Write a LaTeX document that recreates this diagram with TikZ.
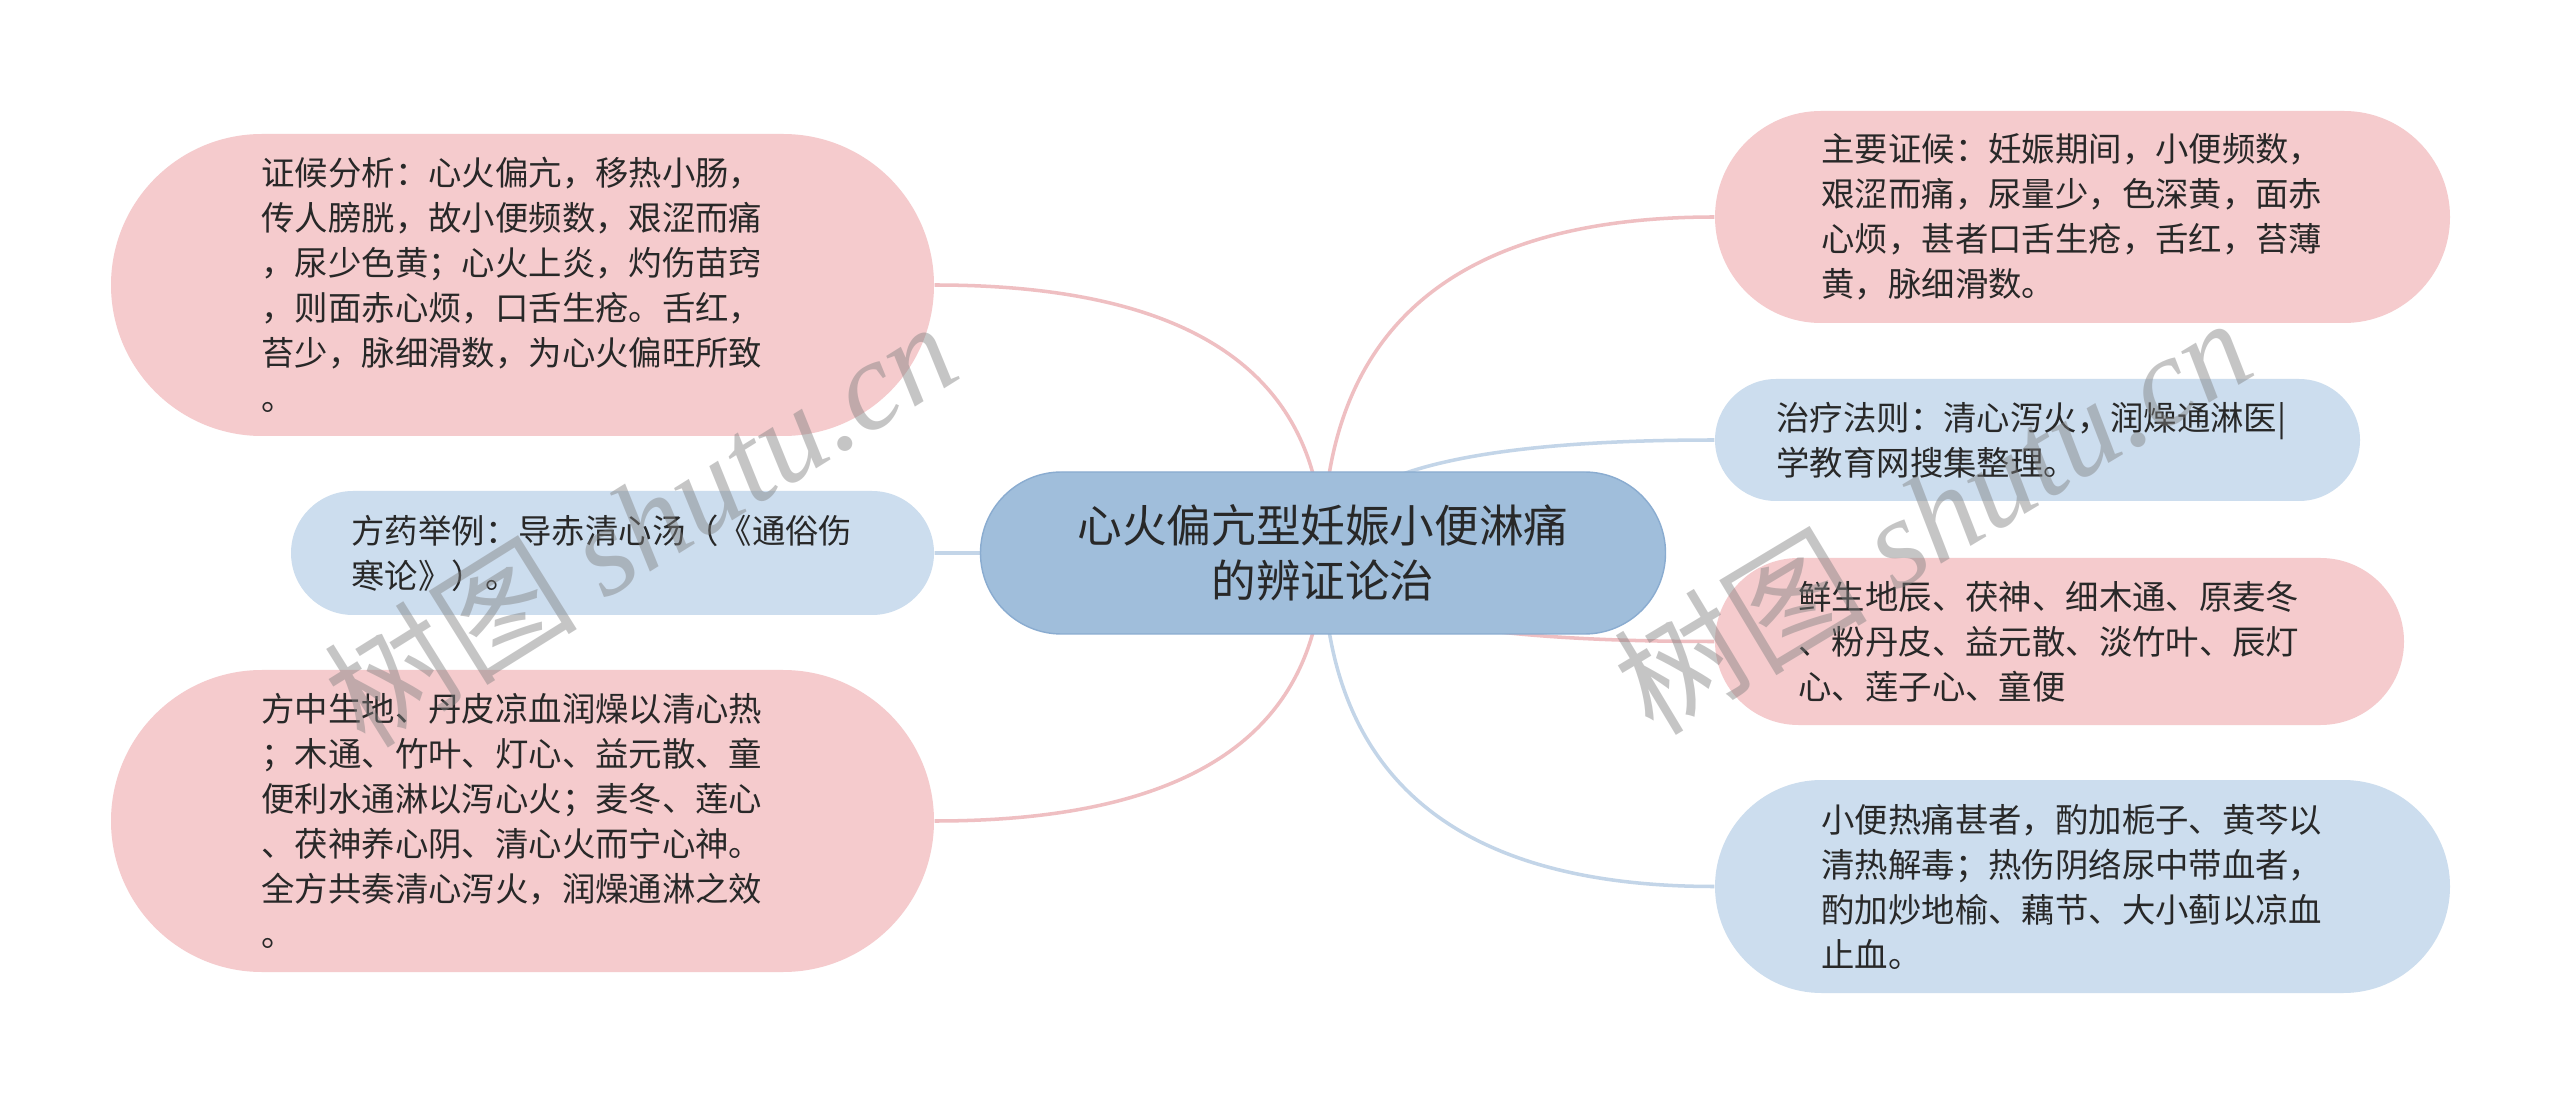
\documentclass[tikz,border=0pt]{standalone}
\usepackage{fontspec}
\setmainfont{Noto Sans CJK SC}
\newfontfamily\wmfont{Liberation Serif}
\usetikzlibrary{shapes.misc,calc,backgrounds}
\definecolor{leafpink}{RGB}{245,203,205}
\definecolor{leafblue}{RGB}{204,221,238}
\definecolor{rootblue}{RGB}{160,190,219}
\definecolor{rootedge}{RGB}{138,172,208}
\definecolor{linkpink}{RGB}{239,191,194}
\definecolor{linkblue}{RGB}{195,213,232}
\definecolor{inkgray}{RGB}{40,40,40}

\begin{document}
\begin{tikzpicture}[
  leaf/.style={rounded rectangle, inner sep=0pt, text width=5.22cm, align=left,
    text=inkgray, font=\fontsize{9.5}{12.8}\selectfont},
  pinkleaf/.style={leaf, fill=leafpink},
  blueleaf/.style={leaf, fill=leafblue},
  rootnode/.style={rounded rectangle, inner sep=0pt, fill=rootblue, draw=rootedge,
    line width=0.4pt, align=center, text=inkgray, font=\fontsize{12.7}{15.8}\selectfont},
  pinkln/.style={draw=linkpink, line width=1pt},
  blueln/.style={draw=linkblue, line width=1pt},
  wmark/.style={text=gray, text opacity=0.45, font=\fontsize{36}{40}\selectfont}]
  \useasboundingbox (0,0) rectangle (25.6,11.05);
  % centre
  \node[rootnode, minimum width=6.85cm, minimum height=1.62cm] (root) at (13.23,5.52)
    {心火偏亢型妊娠小便淋痛\\的辨证论治};
  % left side
  \node[pinkleaf, minimum width=8.23cm, minimum height=3.02cm] (lt) at (5.225,8.20)
    {证候分析：心火偏亢，移热小肠，\\传人膀胱，故小便频数，艰涩而痛\\，尿少色黄；心火上炎，灼伤苗窍\\，则面赤心烦，口舌生疮。舌红，\\苔少，脉细滑数，为心火偏旺所致\\。};
  \node[blueleaf, minimum width=6.43cm, minimum height=1.24cm] (lm) at (6.125,5.52)
    {方药举例：导赤清心汤（《通俗伤\\寒论》）。};
  \node[pinkleaf, minimum width=8.23cm, minimum height=3.02cm] (lb) at (5.225,2.84)
    {方中生地、丹皮凉血润燥以清心热\\；木通、竹叶、灯心、益元散、童\\便利水通淋以泻心火；麦冬、莲心\\、茯神养心阴、清心火而宁心神。\\全方共奏清心泻火，润燥通淋之效\\。};
  % right side
  \node[pinkleaf, minimum width=7.35cm, minimum height=2.12cm] (rt) at (20.825,8.88)
    {主要证候：妊娠期间，小便频数，\\艰涩而痛，尿量少，色深黄，面赤\\心烦，甚者口舌生疮，舌红，苔薄\\黄，脉细滑数。};
  \node[blueleaf, minimum width=6.45cm, minimum height=1.22cm] (rma) at (20.375,6.65)
    {治疗法则：清心泻火，润燥通淋医|\\学教育网搜集整理。};
  \node[pinkleaf, minimum width=6.89cm, minimum height=1.67cm] (rmb) at (20.595,4.635)
    {鲜生地辰、茯神、细木通、原麦冬\\、粉丹皮、益元散、淡竹叶、辰灯\\心、莲子心、童便};
  \node[blueleaf, minimum width=7.35cm, minimum height=2.13cm] (rb) at (20.825,2.185)
    {小便热痛甚者，酌加栀子、黄芩以\\清热解毒；热伤阴络尿中带血者，\\酌加炒地榆、藕节、大小蓟以凉血\\止血。};
  % branches
  \begin{scope}[on background layer]
    \fill[white] (0,0) rectangle (25.6,11.05);
    \foreach \leaf/\side/\kind in {lt/east/pinkln, lm/east/blueln, lb/east/pinkln,
        rt/west/pinkln, rma/west/blueln, rmb/west/pinkln, rb/west/blueln}
      \draw[\kind] (root.center)
        .. controls ($(root.center)!0.667!(root.center |- \leaf.\side)$)
        and ($(\leaf.\side)!0.667!(root.center |- \leaf.\side)$) .. (\leaf.\side);
  \end{scope}
  % watermarks
  \node[wmark, rotate=32] (wma) at (6.40,5.83) {树图 {\wmfont\itshape shutu.cn}};
  \node[wmark, rotate=31] (wmb) at (19.32,5.91) {树图 {\wmfont\itshape shutu.cn}};
\end{tikzpicture}
\end{document}
